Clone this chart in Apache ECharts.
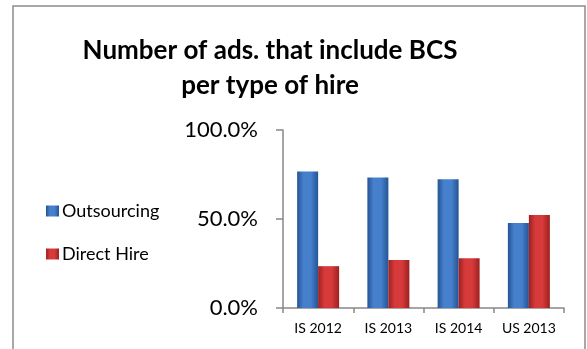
<!DOCTYPE html>
<html>
<head>
<meta charset="utf-8">
<script src="https://cdn.jsdelivr.net/npm/echarts@6/dist/echarts.min.js"></script>
<style>
  html, body { margin: 0; padding: 0; background: #fff; }
  #chart { width: 587px; height: 349px; }
</style>
</head>
<body>
<div id="chart"></div>
<script>
// Share of job ads mentioning BCS, split by type of hire
const categories = ['IS 2012', 'IS 2013', 'IS 2014', 'US 2013'];
const outsourcing = [0.767, 0.733, 0.723, 0.478];
const directHire = [0.235, 0.270, 0.280, 0.522];
const yTicks = [0, 0.5, 1.0];

const FONT = 'Lato, "Open Sans", "Liberation Sans", sans-serif';

function barGradient(edge, mid) {
  return new echarts.graphic.LinearGradient(0, 0, 1, 0, [
    { offset: 0, color: edge },
    { offset: 0.3, color: mid },
    { offset: 0.65, color: mid },
    { offset: 1, color: edge }
  ]);
}

const chart = echarts.init(document.getElementById('chart'), null, { renderer: 'canvas' });

chart.setOption({
  animation: false,
  backgroundColor: '#ffffff',
  title: {
    text: 'Number of ads. that include BCS\nper type of hire',
    left: 265,
    textAlign: 'center',
    top: 28,
    textStyle: {
      fontFamily: FONT,
      fontWeight: 'bold',
      fontSize: 26,
      lineHeight: 35,
      color: '#000'
    }
  },
  legend: {
    orient: 'vertical',
    left: 41,
    top: 196,
    itemWidth: 13,
    itemHeight: 11,
    itemGap: 23,
    icon: 'rect',
    textStyle: { fontFamily: FONT, fontSize: 18, color: '#000', lineHeight: 20, padding: [0, 0, 0, -2] },
    data: ['Outsourcing', 'Direct Hire']
  },
  grid: { left: 283, right: 23, top: 130, bottom: 41 },
  xAxis: {
    type: 'category',
    data: categories,
    axisLine: { lineStyle: { color: '#888', width: 1.5 } },
    axisTick: { show: true, alignWithLabel: false, length: 5, lineStyle: { color: '#888', width: 1.5 } },
    axisLabel: { fontFamily: FONT, fontSize: 14, color: '#000', margin: 13 }
  },
  yAxis: {
    type: 'value',
    min: 0,
    max: 1,
    interval: 0.5,
    axisLine: { show: true, lineStyle: { color: '#888', width: 1.5 } },
    axisTick: { show: true, length: 7, lineStyle: { color: '#888', width: 1.5 } },
    splitLine: { show: false },
    axisLabel: {
      fontFamily: FONT,
      fontSize: 22,
      color: '#000',
      margin: 25,
      formatter: v => yTicks.includes(v) ? (v * 100).toFixed(1) + '%' : ''
    }
  },
  series: [
    {
      name: 'Outsourcing',
      type: 'bar',
      data: outsourcing,
      barWidth: 21,
      barGap: '0%',
      itemStyle: { color: barGradient('#245494', '#4680cc') }
    },
    {
      name: 'Direct Hire',
      type: 'bar',
      data: directHire,
      barWidth: 21,
      barGap: '0%',
      itemStyle: { color: barGradient('#9e2020', '#d63a3a') }
    }
  ],
  graphic: [
    {
      type: 'rect',
      shape: { x: 13, y: 6, width: 572, height: 360 },
      style: { fill: 'none', stroke: '#8c8c8c', lineWidth: 1.5 },
      silent: true
    }
  ]
});
</script>
</body>
</html>
